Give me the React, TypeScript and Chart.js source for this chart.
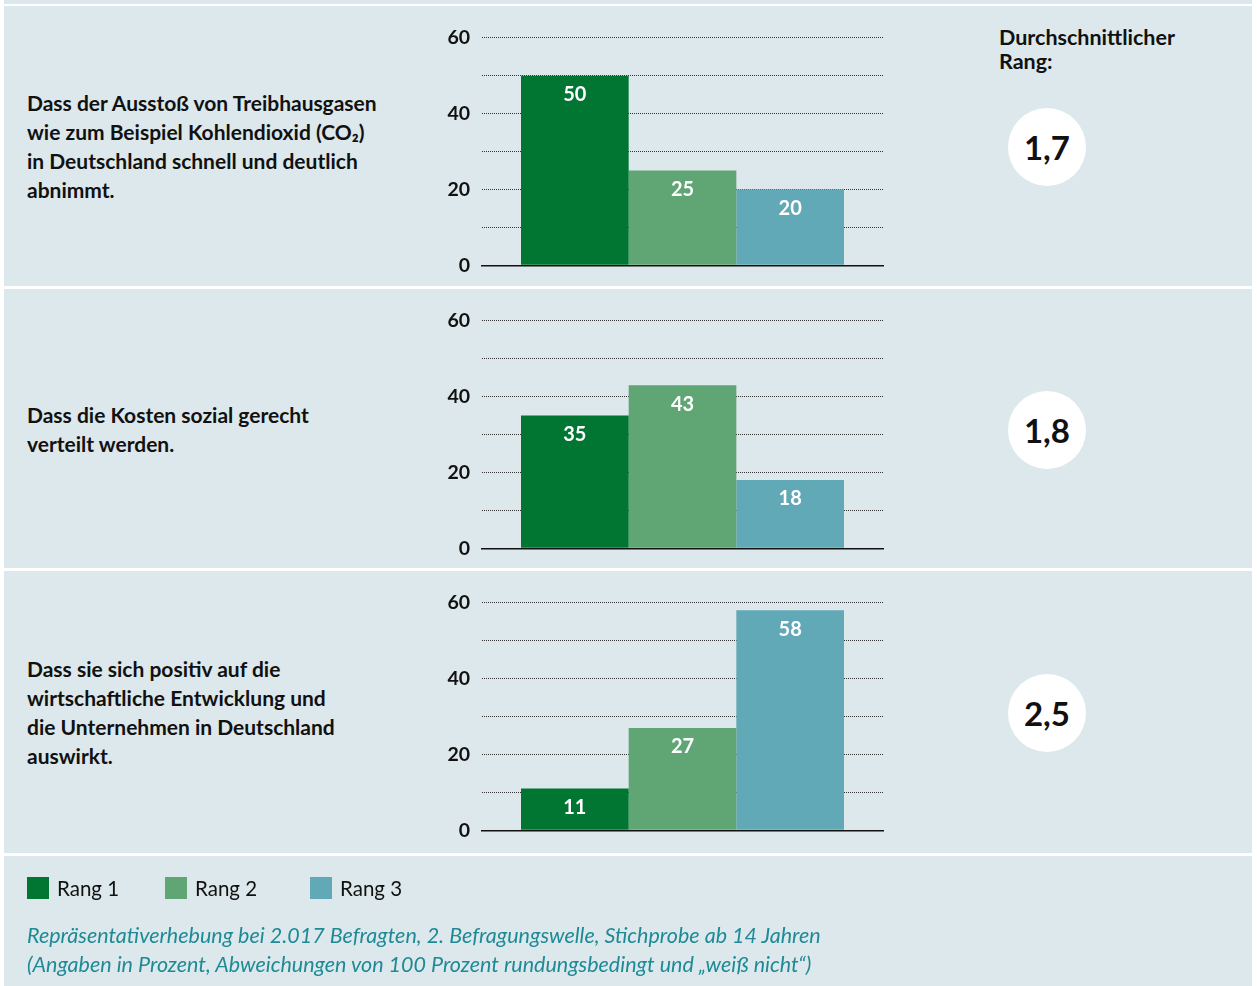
import React, { useEffect, useRef } from "react";
import { Chart, registerables } from "chart.js";

Chart.register(...registerables);

const questions = [
  ["Dass der Ausstoß von Treibhausgasen", "wie zum Beispiel Kohlendioxid (CO₂)", "in Deutschland schnell und deutlich", "abnimmt."],
  ["Dass die Kosten sozial gerecht", "verteilt werden."],
  ["Dass sie sich positiv auf die", "wirtschaftliche Entwicklung und", "die Unternehmen in Deutschland", "auswirkt."],
];
const seriesNames = ["Rang 1", "Rang 2", "Rang 3"];
const rang1 = [50, 35, 11];
const rang2 = [25, 43, 27];
const rang3 = [20, 18, 58];
const avgRank = ["1,7", "1,8", "2,5"];
const yTickLabels = [0, 20, 40, 60];
const avgTitle = ["Durchschnittlicher", "Rang:"];
const footnote = [
  "Repräsentativerhebung bei 2.017 Befragten, 2. Befragungswelle, Stichprobe ab 14 Jahren",
  "(Angaben in Prozent, Abweichungen von 100 Prozent rundungsbedingt und „weiß nicht“)",
];

const colors = ["#007632", "#60a574", "#62a9b7"];
const BG = "#dce8eb";
const FONT = "Lato, 'Noto Sans', sans-serif";

const valueLabels = {
  id: "valueLabels",
  afterDatasetsDraw(chart: any) {
    const ctx = chart.ctx;
    ctx.save();
    ctx.fillStyle = "#ffffff";
    ctx.font = "bold 20px " + FONT;
    ctx.textAlign = "center";
    ctx.textBaseline = "middle";
    chart.data.datasets.forEach((ds: any, di: number) => {
      const meta = chart.getDatasetMeta(di);
      meta.data.forEach((bar: any, i: number) => {
        ctx.fillText(String(ds.data[i]), bar.x, bar.y + 19);
      });
    });
    ctx.restore();
  },
};

function BarPanel({ idx }: { idx: number }) {
  const ref = useRef<HTMLCanvasElement>(null);
  useEffect(() => {
    const series = [rang1, rang2, rang3];
    const chart = new Chart(ref.current!, {
      type: "bar",
      data: {
        labels: [""],
        datasets: series.map((s, k) => ({
          label: seriesNames[k],
          data: [s[idx]],
          backgroundColor: colors[k],
          borderWidth: 0,
          categoryPercentage: 323 / 401,
          barPercentage: 1,
        })),
      },
      options: {
        animation: false,
        responsive: false,
        devicePixelRatio: 1,
        layout: { padding: { top: 0, right: 3, bottom: 0, left: 0 } },
        plugins: { legend: { display: false }, tooltip: { enabled: false } },
        scales: {
          x: {
            grid: { display: false, drawTicks: false },
            ticks: { display: false },
            border: { display: true, color: "#111", width: 1.5 },
            afterFit: (s: any) => {
              s.height = 0;
            },
          },
          y: {
            min: 0,
            max: 60,
            afterFit: (s: any) => {
              s.width = 46;
            },
            ticks: {
              stepSize: 10,
              padding: 12,
              color: "#111",
              font: { family: FONT, weight: "bold", size: 19.5 },
              callback: (v: any) => (yTickLabels.includes(Number(v)) ? String(v) : ""),
            },
            grid: {
              drawTicks: false,
              lineWidth: 1,
              color: (c: any) => (c.tick && c.tick.value === 0 ? "rgba(0,0,0,0)" : "#333"),
            },
            border: { display: false, dash: [1, 1] },
          },
        },
      },
      plugins: [valueLabels],
    } as any);
    return () => chart.destroy();
  }, [idx]);
  return <canvas ref={ref} width={450} height={275} style={{ position: "absolute", left: 432, top: 8 }} />;
}

const panels = [
  { top: 6, height: 280 },
  { top: 289, height: 279 },
  { top: 571, height: 282 },
];

export default function App() {
  return (
    <div style={{ position: "absolute", left: 0, top: 0, width: 1257, height: 986, background: "#fff", overflow: "hidden", fontFamily: FONT }}>
      <div style={{ position: "absolute", left: 4, top: 0, width: 1248, height: 4, background: BG }} />
      {panels.map((p, i) => (
        <div key={i} style={{ position: "absolute", left: 4, top: p.top, width: 1248, height: p.height, background: BG }}>
          <div
            style={{
              position: "absolute",
              left: 23,
              top: 0,
              height: "100%",
              display: "flex",
              flexDirection: "column",
              justifyContent: "center",
              fontWeight: "bold",
              fontSize: 21,
              lineHeight: "29px",
              color: "#111",
            }}
          >
            {questions[i].map((l, j) => (
              <div key={j} style={{ whiteSpace: "nowrap" }}>{l}</div>
            ))}
          </div>
          <BarPanel idx={i} />
          {i === 0 && (
            <div style={{ position: "absolute", left: 995, top: 19, fontWeight: "bold", fontSize: 21.5, lineHeight: "24px", color: "#111" }}>
              {avgTitle.map((l, j) => (
                <div key={j}>{l}</div>
              ))}
            </div>
          )}
          <div
            style={{
              position: "absolute",
              left: 1043 - 39,
              top: p.height / 2 - 39 + 1,
              width: 78,
              height: 78,
              borderRadius: "50%",
              background: "#fff",
              display: "flex",
              alignItems: "center",
              justifyContent: "center",
              fontWeight: "bold",
              fontSize: 33,
              color: "#111",
            }}
          >
            {avgRank[i]}
          </div>
        </div>
      ))}
      <div style={{ position: "absolute", left: 4, top: 856, width: 1248, height: 130, background: BG }}>
        {seriesNames.map((n, k) => (
          <div key={k} style={{ position: "absolute", left: [23, 161, 306][k], top: 20, display: "flex", alignItems: "center", fontSize: 20.5, color: "#111" }}>
            <span style={{ display: "inline-block", width: 22, height: 22, background: colors[k], marginRight: 8 }} />
            <span>{n}</span>
          </div>
        ))}
        <div style={{ position: "absolute", left: 23, top: 65, fontStyle: "italic", fontSize: 21.5, lineHeight: "29px", color: "#1e8a96" }}>
          {footnote.map((l, j) => (
            <div key={j} style={{ whiteSpace: "nowrap" }}>{l}</div>
          ))}
        </div>
      </div>
    </div>
  );
}
